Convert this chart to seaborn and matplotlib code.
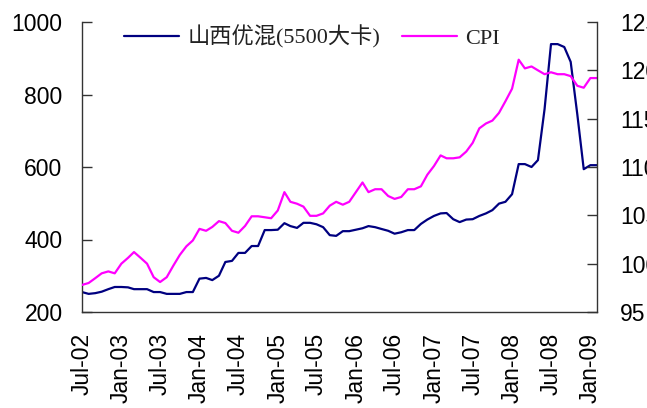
import pandas as pd
import matplotlib.pyplot as plt
import matplotlib.dates as mdates
import seaborn as sns

# ── data (monthly, Jul-02 .. Feb-09) ──────────────────────────────────────────
months = pd.date_range("2002-07-01", periods=80, freq="MS")

coal_price = [
    255, 250, 252, 256, 263, 269, 269, 268, 263, 263, 263, 255,   # Jul-02 .. Jun-03
    255, 250, 250, 250, 255, 255, 292, 294, 288, 300, 338, 341,   # Jul-03 .. Jun-04
    363, 363, 382, 382, 426, 426, 427, 445, 437, 432, 446, 446,   # Jul-04 .. Jun-05
    442, 434, 412, 410, 423, 423, 427, 431, 437, 434, 429, 424,   # Jul-05 .. Jun-06
    416, 420, 426, 426, 443, 455, 465, 472, 473, 456, 448, 455,   # Jul-06 .. Jun-07
    456, 465, 472, 481, 499, 504, 525, 608, 608, 600, 619, 760,   # Jul-07 .. Jun-08
    939, 939, 931, 890, 745, 594, 605, 605,                       # Jul-08 .. Feb-09
]

cpi = [
    97.8, 98.0, 98.5, 99.0, 99.2, 99.0, 100.0, 100.6, 101.2, 100.6, 100.0, 98.6,
    98.1, 98.6, 99.8, 100.9, 101.8, 102.4, 103.6, 103.4, 103.8, 104.4, 104.2, 103.4,
    103.2, 103.9, 104.9, 104.9, 104.8, 104.7, 105.5, 107.4, 106.4, 106.2, 105.9, 104.95,
    104.95, 105.2, 106.0, 106.4, 106.1, 106.4, 107.4, 108.4, 107.4, 107.7, 107.7, 107.0,
    106.7, 106.9, 107.7, 107.7, 108.0, 109.2, 110.1, 111.2, 110.9, 110.9, 111.0, 111.6,
    112.5, 114.0, 114.5, 114.8, 115.6, 116.8, 118.1, 121.1, 120.2, 120.4, 120.0, 119.6,
    119.8, 119.6, 119.6, 119.4, 118.4, 118.2, 119.2, 119.2,
]

coal_label = "山西优混(5500大卡)"
cpi_label = "CPI"
left_ticks = [200, 400, 600, 800, 1000]
right_ticks = [95, 100, 105, 110, 115, 120, 125]

df = pd.DataFrame({"month": months, "coal": coal_price, "cpi": cpi})

# ── style ─────────────────────────────────────────────────────────────────────
sns.set_theme(style="white")
plt.rcParams["font.family"] = ["Liberation Sans", "DejaVu Sans"]
legend_font = ["Liberation Serif", "Noto Sans CJK SC"]
SPINE = "#333333"

fig = plt.figure(figsize=(6.47, 4.08), dpi=100)
ax = fig.add_axes([82 / 647, 1 - 312 / 408, (597 - 82) / 647, 290 / 408])
ax2 = ax.twinx()

sns.lineplot(data=df, x="month", y="coal", ax=ax, color="#000080",
             linewidth=1.6, label=coal_label, legend=False)
sns.lineplot(data=df, x="month", y="cpi", ax=ax2, color="#FF00FF",
             linewidth=1.6, label=cpi_label, legend=False)

ax.set_xlim(months[0], months[-1])
ax.set_ylim(200, 1000)
ax2.set_ylim(95, 125)
ax.set_yticks(left_ticks)
ax2.set_yticks(right_ticks)

ax.xaxis.set_major_locator(mdates.MonthLocator(bymonth=[1, 7]))
ax.xaxis.set_major_formatter(mdates.DateFormatter("%b-%y"))
ax.tick_params(axis="x", rotation=90)

for a in (ax, ax2):
    a.set_xlabel("")
    a.set_ylabel("")
    a.grid(False)
    a.spines["top"].set_visible(False)
    for s in ("left", "right", "bottom"):
        a.spines[s].set_color(SPINE)
        a.spines[s].set_linewidth(1.0)
    a.tick_params(direction="in", length=7, width=1.0, color=SPINE,
                  labelsize=16.5, labelcolor="black")
ax.spines["right"].set_visible(False)
ax2.spines["left"].set_visible(False)
ax2.spines["bottom"].set_visible(False)
ax.tick_params(axis="y", pad=14)
ax.tick_params(axis="x", pad=15)
# right labels sit partly past the figure edge, as in the source chart
ax2.tick_params(axis="y", pad=16.5)

h1, l1 = ax.get_legend_handles_labels()
h2, l2 = ax2.get_legend_handles_labels()
leg = fig.legend(h1 + h2, l1 + l2, loc="center left",
                 bbox_to_anchor=(113 / 647, 1 - 37 / 408), ncol=2,
                 frameon=False, borderpad=0, handlelength=2.48,
                 handletextpad=0.36, columnspacing=1.0,
                 prop={"family": legend_font, "size": 16})
for t in leg.get_texts():
    t.set_color("#222222")

fig.savefig("out.png", dpi=100)
